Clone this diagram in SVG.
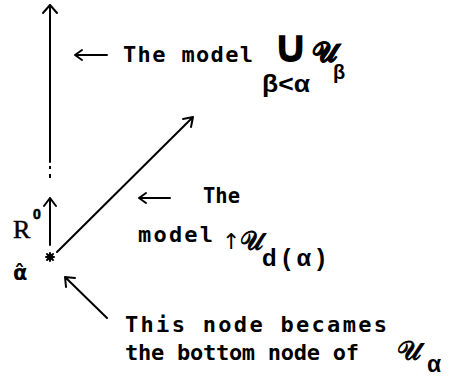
<svg xmlns="http://www.w3.org/2000/svg" width="453" height="383" viewBox="0 0 453 383">
<style>
.ln{stroke:#000;stroke-width:2;fill:none;stroke-linecap:round;stroke-linejoin:round}
.tw{font-family:"DejaVu Sans Mono","Liberation Mono",monospace;font-weight:bold;font-size:22px;fill:#000}
.gk{font-family:"Liberation Sans","DejaVu Sans",sans-serif;font-weight:bold;fill:#000}
.sc{font-family:"DejaVu Serif","DejaVu Sans","Noto Sans",serif;fill:#000;stroke:#000;stroke-width:0.9}
</style>
<rect width="453" height="383" fill="#fff"/>
<g id="connectors">
<path class="ln" d="M50,162 V5 M43,13 L50,5 L57,13"/>
<rect x="49" y="166" width="2" height="3" fill="#000"/>
<rect x="49" y="174" width="2" height="4" fill="#000"/>
<path class="ln" d="M50,245 V198 M44,206 L50,198 L56,206"/>
<path class="ln" d="M57,252 L193,117 M183,119 L193,117 L191,127"/>
<path class="ln" d="M107,318 L65,277 M66,287 L65,277 L75,278"/>
<path class="ln" d="M107,55 H75 M82,50 L75,55 L82,60"/>
<path class="ln" d="M170,198 H139 M146,193 L139,198 L146,203"/>
</g>
<g id="node-alpha">
<circle cx="50" cy="257" r="3" fill="#000"/>
<path class="ln" stroke-width="1.5" d="M46,257 H54 M50,253 V261 M47,254 L53,260 M53,254 L47,260"/>
<text x="13" y="280" font-family="DejaVu Sans,sans-serif" font-weight="bold" font-size="21" fill="#000">α̂</text>
<text x="13" y="238" font-family="Liberation Serif,serif" font-size="26" fill="#000" stroke="#000" stroke-width="0.5">R</text>
<text class="gk" x="33" y="219" font-size="14" font-weight="normal" stroke="#000" stroke-width="0.6">0</text>
</g>
<g id="label-union">
<text class="tw" x="123" y="62" textLength="130" lengthAdjust="spacing">The model</text>
<text x="272" y="62" font-family="DejaVu Sans,sans-serif" font-weight="bold" font-size="46" fill="#000">∪<tspan class="sc" font-size="28" dx="3">𝒰</tspan></text>
<text class="gk" x="262" y="92" font-size="23" textLength="48" lengthAdjust="spacingAndGlyphs">β&lt;α</text>
<text class="gk" x="333" y="79" font-size="20">β</text>
</g>
<g id="label-model">
<text class="tw" x="203" y="203" textLength="37" lengthAdjust="spacingAndGlyphs">The</text>
<text class="tw" x="138" y="242" textLength="75" lengthAdjust="spacing">model</text>
<text x="222" y="249" font-family="DejaVu Sans,sans-serif" font-size="22" fill="#000">↑<tspan class="sc" dy="1" font-size="26">𝒰</tspan></text>
<text class="gk" x="262" y="266" font-size="24" textLength="63" lengthAdjust="spacing">d(α)</text>
</g>
<g id="label-bottom">
<text class="tw" x="125" y="332" textLength="262" lengthAdjust="spacing">This node becames</text>
<text class="tw" x="125" y="360" textLength="234" lengthAdjust="spacing">the bottom node of</text>
<text class="sc" x="397" y="360" font-size="27">𝒰</text>
<text class="gk" x="427" y="372" font-size="23">α</text>
</g>
</svg>
